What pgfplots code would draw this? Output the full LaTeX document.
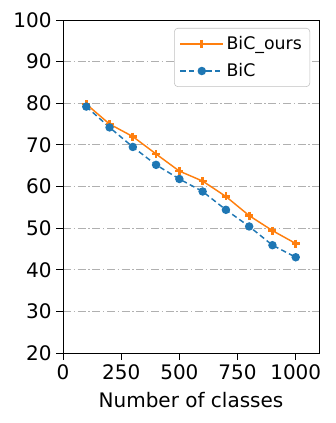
\documentclass[border=0pt]{standalone}
\usepackage{fontspec}
\setmainfont{DejaVu Sans}
\usepackage{pgfplots}
\pgfplotsset{compat=1.18}
\definecolor{mplblue}{HTML}{1F77B4}
\definecolor{mplorange}{HTML}{FF7F0E}
\definecolor{gridgray}{HTML}{B0B0B0}
\begin{document}
\begin{tikzpicture}[x=0.75pt,y=0.75pt]
\begin{axis}[
    name=ax,
    scale only axis,
    width=192pt, height=249.75pt,
    xmin=0, xmax=1100,
    ymin=20, ymax=100,
    xtick={0,250,500,750,1000},
    ytick={20,30,40,50,60,70,80,90,100},
    tick align=outside,
    tick pos=left,
    major tick length=5pt,
    tick style={black, line width=0.6pt},
    axis line style={line width=0.6pt},
    ymajorgrids,
    grid style={gridgray, line width=0.7pt, dash pattern=on 6pt off 2pt on 1pt off 2pt},
    ticklabel style={font=\fontsize{15}{18}\selectfont},
    /pgf/number format/assume math mode=true,
    /pgf/number format/1000 sep={},
    xlabel={Number of classes},
    xlabel style={font=\fontsize{15}{18}\selectfont, yshift=-3pt},
    legend cell align=left,
    legend style={at={(0.965,0.976)}, anchor=north east,
        font=\fontsize{13}{15}\selectfont,
        draw=gridgray!80, rounded corners=2.5pt, inner xsep=4pt, inner ysep=4pt,
        /tikz/every even column/.append style={column sep=5pt},
        row sep=5pt},
    legend image code/.code={
        \draw[mark repeat=2,mark phase=2] plot coordinates {(0pt,0pt) (16pt,0pt) (32pt,0pt)};
    },
]
\addplot[color=mplorange, line width=1.1pt, mark=+, mark size=3pt,
    mark options={solid, line width=2pt}] coordinates {
    (100,79.8) (200,75.0) (300,72.0) (400,67.8) (500,63.7)
    (600,61.3) (700,57.6) (800,53.0) (900,49.4) (1000,46.3)
};
\addlegendentry{BiC\_ours}
\addplot[color=mplblue, line width=1.1pt, dash pattern=on 4pt off 2.5pt, mark=*, mark size=2.6pt,
    mark options={solid}] coordinates {
    (100,79.2) (200,74.2) (300,69.5) (400,65.2) (500,61.8)
    (600,58.8) (700,54.4) (800,50.4) (900,45.9) (1000,43.0)
};
\addlegendentry{BiC}
\end{axis}
\useasboundingbox ([xshift=-47.25pt,yshift=-52.5pt]ax.south west) rectangle ([xshift=12pt,yshift=15pt]ax.north east);
\end{tikzpicture}
\end{document}
